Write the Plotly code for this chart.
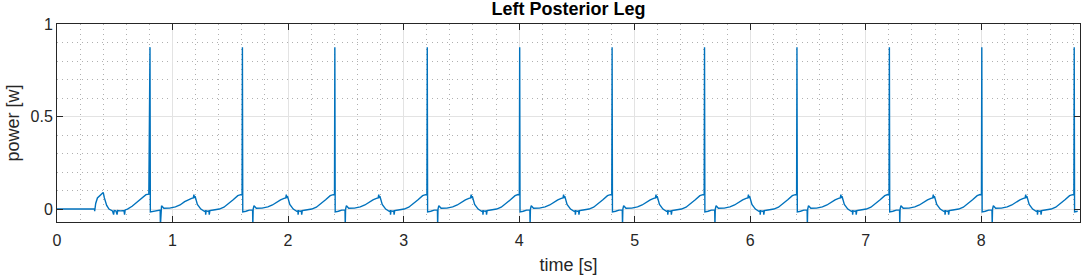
import plotly.graph_objects as go

# Onset of the signal (before it, the trace sits at zero)
start_t = [0.0, 0.325, 0.326, 0.335, 0.35, 0.37, 0.39, 0.40, 0.41, 0.43, 0.45, 0.48, 0.49, 0.495, 0.51, 0.52, 0.525, 0.55, 0.58, 0.585, 0.59, 0.61, 0.65, 0.70, 0.74, 0.77, 0.795]
start_v = [0.0, 0.0, -0.012, 0.03, 0.06, 0.07, 0.085, 0.09, 0.06, 0.02, 0.0, -0.01, -0.03, -0.008, -0.01, -0.03, -0.008, -0.01, -0.008, -0.03, -0.005, 0.0, 0.015, 0.04, 0.065, 0.078, 0.08]

# Times of the large power spikes [s]
spike_times = [0.805, 1.605, 2.405, 3.205, 4.005, 4.805, 5.605, 6.405, 7.205, 8.005, 8.805]
spike_peak = [0.875, 0.875, 0.875, 0.875, 0.875, 0.875, 0.875, 0.875, 0.875, 0.875, 0.875]

# One gait cycle after each spike (offset from spike [s], power [w])
cycle_dt = [0.0, 0.003, 0.03, 0.06, 0.088, 0.09, 0.093, 0.10, 0.12, 0.17, 0.22, 0.26, 0.30, 0.33, 0.36, 0.375, 0.38, 0.385, 0.39, 0.41, 0.44, 0.47, 0.48, 0.482, 0.486, 0.50, 0.51, 0.513, 0.518, 0.55, 0.60, 0.64, 0.68, 0.72, 0.76, 0.785, 0.797]
cycle_v = [0.875, -0.015, -0.012, -0.006, -0.005, -0.09, 0.0, 0.018, 0.004, 0.005, 0.012, 0.022, 0.04, 0.05, 0.058, 0.06, 0.078, 0.06, 0.07, 0.025, 0.0, -0.012, -0.01, -0.03, -0.01, -0.012, -0.01, -0.03, -0.008, -0.005, 0.0, 0.01, 0.028, 0.05, 0.072, 0.078, 0.076]

t, p = list(start_t), list(start_v)
for s, h in zip(spike_times, spike_peak):
    for dt, v in zip(cycle_dt, cycle_v):
        if s + dt > 8.86:
            break
        t.append(s + dt)
        p.append(h if dt == 0.0 else v)

fig = go.Figure()
fig.add_trace(go.Scatter(x=t, y=p, mode="lines",
                         line=dict(color="#0072BD", width=1.4), showlegend=False))

FONT = "Liberation Sans, Arial, Helvetica"
axis_common = dict(
    showline=True, linecolor="#262626", linewidth=1, mirror="ticks",
    ticks="inside", ticklen=6, tickcolor="#262626", automargin=False,
    showgrid=True, gridcolor="#e3e3e3", gridwidth=1, zeroline=False,
    tickfont=dict(family=FONT, size=16, color="#262626"),
)

fig.update_layout(
    width=1084, height=278,
    margin=dict(l=57, r=4, t=24, b=56),
    paper_bgcolor="white", plot_bgcolor="white",
    title=dict(text="<b>Left Posterior Leg</b>", x=0.5, xanchor="center",
               xref="paper", y=1 - 8.5 / 278, yanchor="middle",
               font=dict(family=FONT, size=18, color="#000000")),
    xaxis=dict(range=[0, 8.855], dtick=1, tick0=0, ticklabelstandoff=4,
               title=dict(text="time [s]", standoff=10,
                          font=dict(family=FONT, size=18, color="#262626")),
               minor=dict(showgrid=True, dtick=0.2, tick0=0, griddash="1px,4px",
                          gridcolor="#b0b0b0", gridwidth=1, ticks=""),
               **axis_common),
    yaxis=dict(range=[-0.07, 1.0], tickvals=[0, 0.5, 1], ticktext=["0", "0.5", "1"],
               title=dict(text="power [w]", standoff=6,
                          font=dict(family=FONT, size=18, color="#262626")),
               minor=dict(showgrid=True, dtick=0.1, tick0=0, griddash="1px,4px",
                          gridcolor="#b0b0b0", gridwidth=1, ticks=""),
               **axis_common),
)

fig.write_html("out.html", config={"displayModeBar": False},
               post_script="document.body.style.margin='0';document.body.style.padding='0';")
